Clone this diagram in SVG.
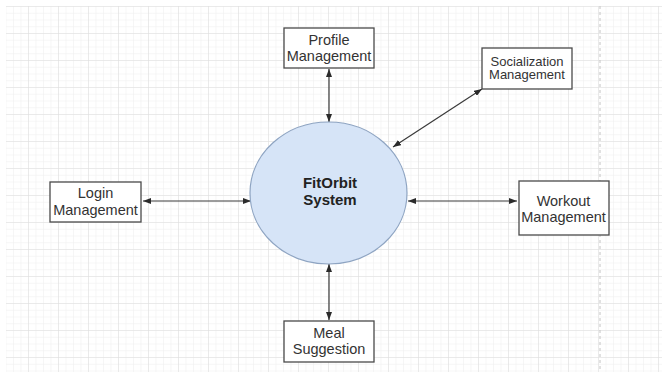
<svg xmlns="http://www.w3.org/2000/svg" width="662" height="372" viewBox="0 0 662 372">
  <style>
    .box { fill: #ffffff; stroke: #4a4a4a; stroke-width: 1.3; }
    .lbl { font-family: "Liberation Sans", Arial, sans-serif; font-size: 14.5px; fill: #333333; text-anchor: middle; }
    .lbl-sm { font-size: 13px; }
    .core { fill: #d6e4f7; stroke: #8ea4c2; stroke-width: 1.2; }
    .core-lbl { font-family: "Liberation Sans", Arial, sans-serif; font-size: 15px; font-weight: bold; fill: #222222; text-anchor: middle; }
    .flow { stroke: #3a3a3a; stroke-width: 1.2; fill: none; marker-start: url(#tip); marker-end: url(#tip); }
  </style>
  <defs>
    <marker id="tip" viewBox="0 0 8 6" refX="8" refY="3" markerWidth="8" markerHeight="6" markerUnits="userSpaceOnUse" orient="auto-start-reverse">
      <path d="M0,0 L8,3 L0,6 Z" fill="#2a2a2a"/>
    </marker>
    <!-- editor grid: 4 minor cells per major cell -->
    <pattern id="gridMinor" x="-2" y="6" width="7.5" height="6.75" patternUnits="userSpaceOnUse">
      <path d="M0,0 H7.5 M0,0 V6.75" stroke="#eeeeee" stroke-width="1" fill="none"/>
    </pattern>
    <pattern id="gridMajor" x="-2" y="6" width="30" height="27" patternUnits="userSpaceOnUse">
      <path d="M0,0 H30 M0,0 V27" stroke="#dddddd" stroke-width="1" fill="none"/>
    </pattern>
  </defs>

  <!-- canvas -->
  <rect x="0" y="0" width="662" height="372" fill="#ffffff"/>
  <rect x="6" y="6" width="656" height="366" fill="url(#gridMinor)"/>
  <rect x="6" y="6" width="656" height="366" fill="url(#gridMajor)"/>
  <!-- page break -->
  <line x1="600" y1="6" x2="600" y2="372" stroke="#c4c4c4" stroke-width="1" stroke-dasharray="3,3"/>

  <!-- connectors -->
  <g id="connectors">
    <line class="flow" x1="329" y1="69" x2="329" y2="122"/>
    <line class="flow" x1="482" y1="89" x2="393" y2="147"/>
    <line class="flow" x1="143" y1="201" x2="251" y2="201"/>
    <line class="flow" x1="408" y1="201" x2="517" y2="201"/>
    <line class="flow" x1="329" y1="264" x2="329" y2="320"/>
  </g>

  <g id="fitorbit-system">
    <ellipse class="core" cx="328.5" cy="193" rx="78.5" ry="71"/>
    <text class="core-lbl" x="330" y="188">FitOrbit</text>
    <text class="core-lbl" x="330" y="205">System</text>
  </g>

  <g id="profile-management">
    <rect class="box" x="284" y="28" width="90" height="40"/>
    <text class="lbl" x="329" y="45">Profile</text>
    <text class="lbl" x="329" y="61">Management</text>
  </g>

  <g id="socialization-management">
    <rect class="box" x="482" y="48" width="90" height="41"/>
    <text class="lbl lbl-sm" x="527" y="65.5">Socialization</text>
    <text class="lbl lbl-sm" x="527" y="79">Management</text>
  </g>

  <g id="login-management">
    <rect class="box" x="50" y="182" width="91" height="40"/>
    <text class="lbl" x="95.5" y="198">Login</text>
    <text class="lbl" x="95.5" y="215">Management</text>
  </g>

  <g id="workout-management">
    <rect class="box" x="519" y="181" width="90" height="54"/>
    <text class="lbl" x="563.5" y="206">Workout</text>
    <text class="lbl" x="563.5" y="222">Management</text>
  </g>

  <g id="meal-suggestion">
    <rect class="box" x="284" y="321" width="90" height="41"/>
    <text class="lbl" x="329" y="338">Meal</text>
    <text class="lbl" x="329" y="354">Suggestion</text>
  </g>
</svg>
